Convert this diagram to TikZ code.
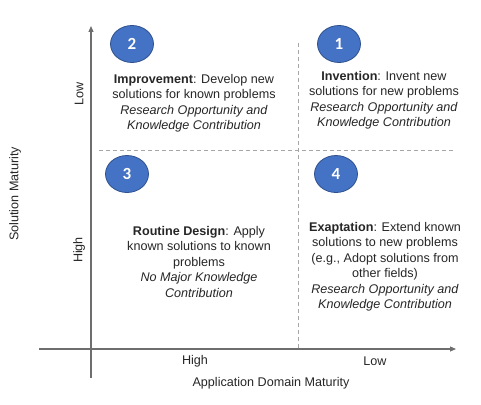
\documentclass[tikz,border=0pt]{standalone}
\usepackage{fontspec}
\setmainfont{Liberation Sans}
\newfontfamily\numfont{Carlito}
\usetikzlibrary{arrows.meta,shapes.geometric}
\definecolor{numblue}{HTML}{4472C4}
\definecolor{numedge}{HTML}{2F528F}
\definecolor{axisgray}{HTML}{6E6E6E}
\definecolor{dashgray}{HTML}{A6A6A6}
\definecolor{txt}{HTML}{262626}
\begin{document}
\begin{tikzpicture}[x=1pt,y=-1pt,
  numcircle/.style={ellipse,fill=numblue,draw=numedge,line width=0.8pt,
    minimum width=43pt,minimum height=37pt,inner sep=0pt,
    text=white,font=\numfont\bfseries\fontsize{17}{17}\selectfont},
  quad/.style={align=center,text=txt,font=\fontsize{12.6}{15.5}\selectfont,inner sep=0pt},
  axlabel/.style={text=txt,font=\fontsize{12.6}{15}\selectfont,inner sep=0pt},
  axisline/.style={draw=axisgray,line width=1.1pt},
  divider/.style={draw=dashgray,line width=0.8pt,dash pattern=on 4pt off 3pt}]
\useasboundingbox (0,0) rectangle (481,404);
% axes
\coordinate (vbot) at (91,378);
\coordinate (vtop) at (91,26);
\coordinate (hleft) at (39,349);
\coordinate (hright) at (456,349);
\draw[axisline,-{Triangle[length=6pt,width=5pt]}] (vbot) -- (vtop);
\draw[axisline,-{Triangle[length=6pt,width=5pt]}] (hleft) -- (hright);
% dividers
\coordinate (dvtop) at (298,43);
\coordinate (dvbot) at (298,349);
\coordinate (dhleft) at (99,150);
\coordinate (dhright) at (454,150);
\draw[divider] (dvtop) -- (dvbot);
\draw[divider] (dhleft) -- (dhright);
% numbers
\node[numcircle] (n2) at (132,44) {2};
\node[numcircle] (n1) at (339,44) {1};
\node[numcircle] (n3) at (127,174) {3};
\node[numcircle] (n4) at (336,174) {4};
% quadrant texts
\node[quad,anchor=north] (q2) at (194,74) {\textbf{Improvement}: Develop new\\solutions for known problems\\\textit{Research Opportunity and}\\\textit{Knowledge Contribution}};
\node[quad,anchor=north] (q1) at (384,71) {\textbf{Invention}: Invent new\\solutions for new problems\\\textit{Research Opportunity and}\\\textit{Knowledge Contribution}};
\node[quad,anchor=north] (q3) at (199,226) {\textbf{Routine Design}: Apply\\known solutions to known\\problems\\\textit{No Major Knowledge}\\\textit{Contribution}};
\node[quad,anchor=north] (q4) at (385,222) {\textbf{Exaptation}: Extend known\\solutions to new problems\\(e.g., Adopt solutions from\\other fields)\\\textit{Research Opportunity and}\\\textit{Knowledge Contribution}};
% axis labels
\node[axlabel,rotate=90] (low) at (79,94) {Low};
\node[axlabel,rotate=90] (high) at (79,250) {High};
\node[axlabel,rotate=90] (ymat) at (15,194) {Solution Maturity};
\node[axlabel] (xhigh) at (195,361) {High};
\node[axlabel] (xlow) at (375,361) {Low};
\node[axlabel] (xmat) at (271,383) {Application Domain Maturity};
\end{tikzpicture}
\end{document}
